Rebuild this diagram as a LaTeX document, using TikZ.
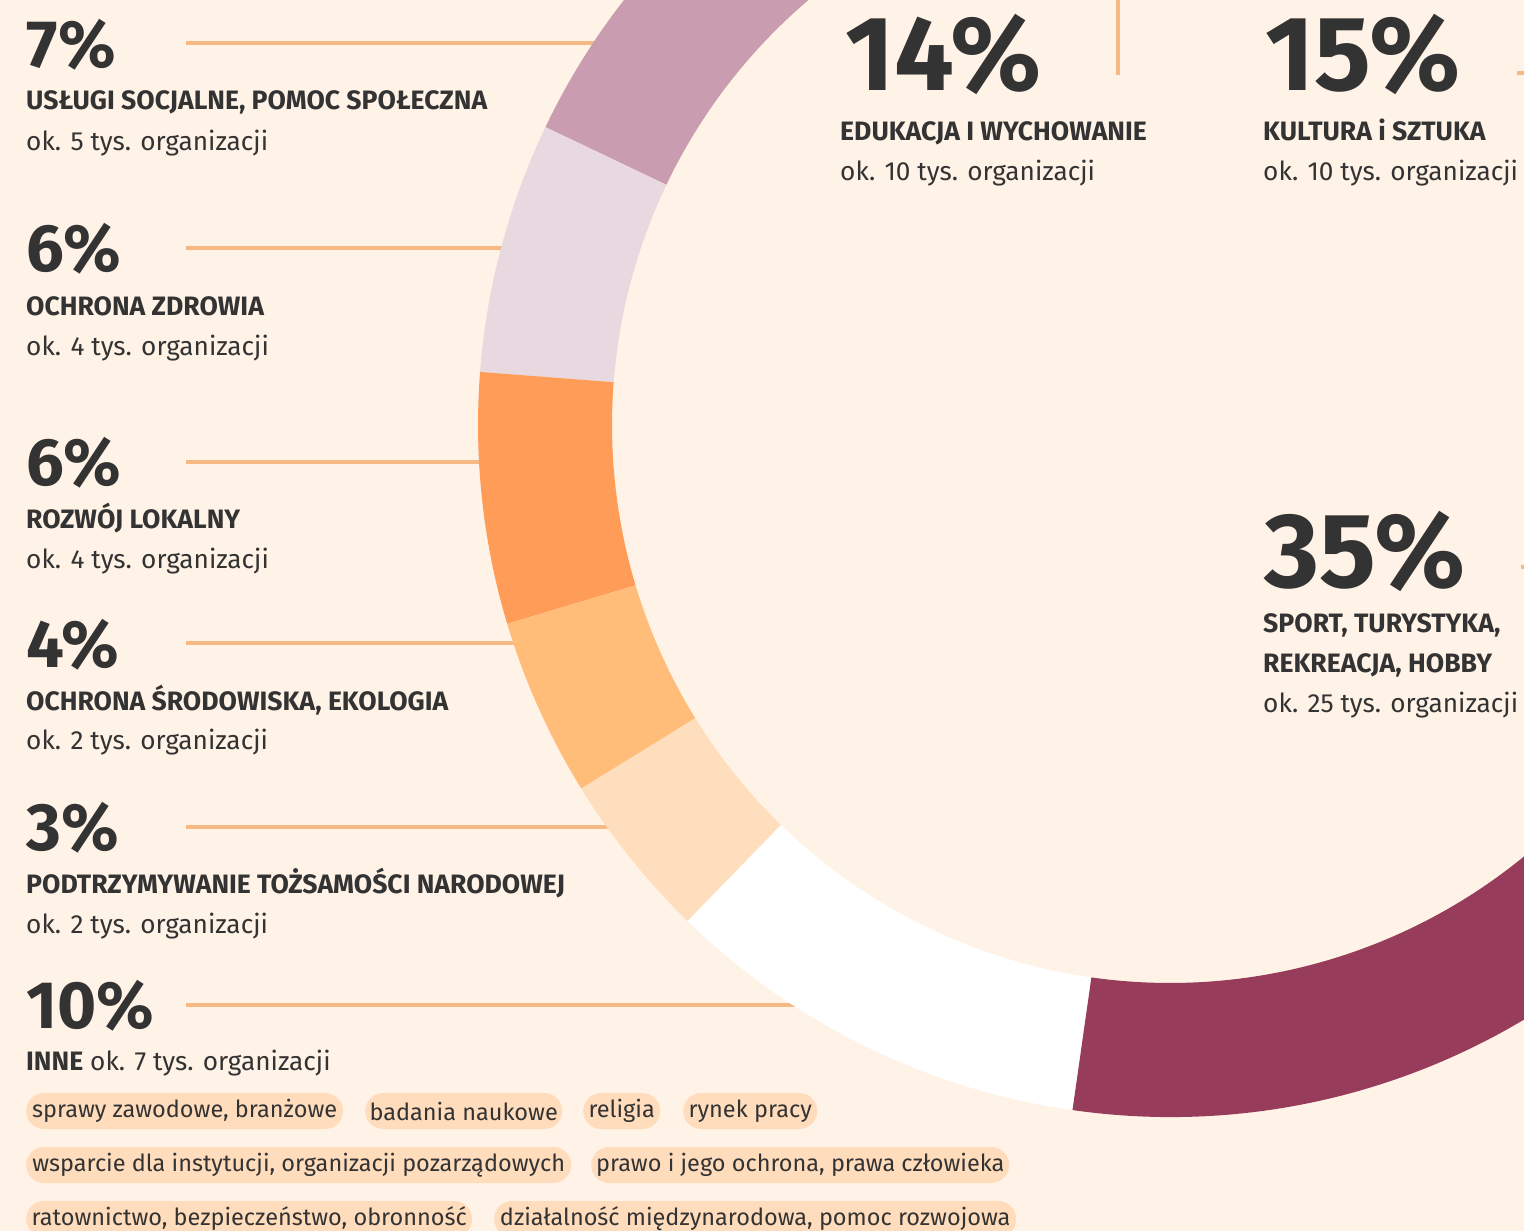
\documentclass[tikz,border=0pt]{standalone}
\usepackage{fontspec}
\setmainfont{Fira Sans}
\definecolor{bgc}{HTML}{FFF2E6}
\definecolor{txt}{HTML}{333333}
\definecolor{lnc}{HTML}{F6B985}
\definecolor{pillc}{HTML}{FFDCBC}
\definecolor{cA}{HTML}{C99CAF}
\definecolor{cB}{HTML}{E8D8DF}
\definecolor{cC}{HTML}{FF9C57}
\definecolor{cD}{HTML}{FFBD79}
\definecolor{cE}{HTML}{FFDEBE}
\definecolor{cF}{HTML}{FFFFFF}
\definecolor{cG}{HTML}{973C5B}
\newcommand\ringseg[3]{\fill[#1] ([shift={(c)}]#2:692) arc[start angle=#2,end angle=#3,radius=692] -- ([shift={(c)}]#3:558) arc[start angle=#3,end angle=#2,radius=558] -- cycle;}
\begin{document}
\begin{tikzpicture}[x=1pt,y=1pt,
  bigpct/.style={inner sep=0pt,anchor=base west,text=txt,font=\bfseries\fontsize{67}{70}\selectfont},
  hugepct/.style={inner sep=0pt,anchor=base west,text=txt,font=\bfseries\fontsize{106}{110}\selectfont},
  head/.style={inner sep=0pt,anchor=base west,text=txt,font=\bfseries\fontsize{26.6}{30}\selectfont},
  sub/.style={inner sep=0pt,anchor=base west,text=txt,font=\fontsize{26.2}{30}\selectfont},
  ln/.style={draw=lnc,line width=4pt},
  pill/.style={fill=pillc,rounded corners=18pt,minimum height=36pt,inner xsep=0pt,inner ysep=0pt,anchor=west,text=txt,font=\fontsize{23.5}{28}\selectfont}]
\useasboundingbox (0,0) rectangle (1524,-1231);
\fill[bgc] (0,0) rectangle (1524,-1231);
% connector coordinates
\coordinate (s7) at (186,-43);   \coordinate (e7) at (598,-43);
\coordinate (s6a) at (186,-248); \coordinate (e6a) at (506,-248);
\coordinate (s6b) at (186,-462); \coordinate (e6b) at (484,-462);
\coordinate (s4) at (186,-643);  \coordinate (e4) at (518,-643);
\coordinate (s3) at (186,-827);  \coordinate (e3) at (612,-827);
\coordinate (s10) at (186,-1005);\coordinate (e10) at (798,-1005);
\draw[ln] (s7) -- (e7);
\draw[ln] (s6a) -- (e6a);
\draw[ln] (s6b) -- (e6b);
\draw[ln] (s4) -- (e4);
\draw[ln] (s3) -- (e3);
\draw[ln] (s10) -- (e10);
% ring
\begin{scope}
\clip (0,0) rectangle (1524,-1231);
\coordinate (c) at (1170,-425);
\ringseg{cA}{129.3}{154.5}
\ringseg{cB}{154.5}{175.6}
\ringseg{cC}{175.6}{196.7}
\ringseg{cD}{196.7}{211.7}
\ringseg{cE}{211.7}{225.8}
\ringseg{cF}{225.8}{261.9}
\ringseg{cG}{261.9}{387.9}
\end{scope}
% top / right ticks
\coordinate (t14a) at (1118,2); \coordinate (t14b) at (1118,-75);
\coordinate (t15a) at (1517,-73); \coordinate (t15b) at (1530,-73);
\coordinate (t35a) at (1521,-567); \coordinate (t35b) at (1530,-567);
\draw[ln] (t14a) -- (t14b);
\draw[ln] (t15a) -- (t15b);
\draw[ln] (t35a) -- (t35b);
% left labels
\node[bigpct] (p7) at (26,-67) {7\%};
\node[head] (h7) at (26,-110) {USŁUGI SOCJALNE, POMOC SPOŁECZNA};
\node[sub] (o7) at (26,-150) {ok. 5 tys. organizacji};
\node[bigpct] (p6a) at (26,-271) {6\%};
\node[head] (h6a) at (26,-315) {OCHRONA ZDROWIA};
\node[sub] (o6a) at (26,-355) {ok. 4 tys. organizacji};
\node[bigpct] (p6b) at (26,-485) {6\%};
\node[head] (h6b) at (26,-528) {ROZWÓJ LOKALNY};
\node[sub] (o6b) at (26,-568) {ok. 4 tys. organizacji};
\node[bigpct] (p4) at (26,-667) {4\%};
\node[head] (h4) at (26,-710) {OCHRONA ŚRODOWISKA, EKOLOGIA};
\node[sub] (o4) at (26,-749) {ok. 2 tys. organizacji};
\node[bigpct] (p3) at (26,-850) {3\%};
\node[head] (h3) at (26,-893) {PODTRZYMYWANIE TOŻSAMOŚCI NARODOWEJ};
\node[sub] (o3) at (26,-933) {ok. 2 tys. organizacji};
\node[bigpct] (p10) at (26,-1028) {10\%};
\node[sub] (h10) at (26,-1070) {{\fontsize{26.6}{30}\selectfont\bfseries INNE} ok. 7 tys. organizacji};
% right labels
\node[hugepct] (p14) at (845,-91) {14\%};
\node[head] (h14) at (840,-140) {EDUKACJA I WYCHOWANIE};
\node[sub] (o14) at (840,-180) {ok. 10 tys. organizacji};
\node[hugepct] (p15) at (1265,-91) {15\%};
\node[head] (h15) at (1263,-140) {KULTURA i SZTUKA};
\node[sub] (o15) at (1263,-180) {ok. 10 tys. organizacji};
\node[hugepct] (p35) at (1264,-587) {35\%};
\node[head] (h35a) at (1263,-632) {SPORT, TURYSTYKA,};
\node[head] (h35b) at (1263,-672) {REKREACJA, HOBBY};
\node[sub] (o35) at (1263,-712) {ok. 25 tys. organizacji};
% pills
\node[pill,minimum width=317pt] (q1) at (26,-1111) {sprawy zawodowe, branżowe};
\node[pill,minimum width=197pt] (q2) at (365,-1111) {badania naukowe};
\node[pill,minimum width=77pt] (q3) at (583,-1111) {religia};
\node[pill,minimum width=134pt] (q4) at (683,-1111) {rynek pracy};
\node[pill,minimum width=545pt] (q5) at (26,-1165) {wsparcie dla instytucji, organizacji pozarządowych};
\node[pill,minimum width=418pt] (q6) at (591,-1165) {prawo i jego ochrona, prawa człowieka};
\node[pill,minimum width=446pt] (q7) at (26,-1219) {ratownictwo, bezpieczeństwo, obronność};
\node[pill,minimum width=522pt] (q8) at (494,-1219) {działalność międzynarodowa, pomoc rozwojowa};
\end{tikzpicture}
\end{document}
